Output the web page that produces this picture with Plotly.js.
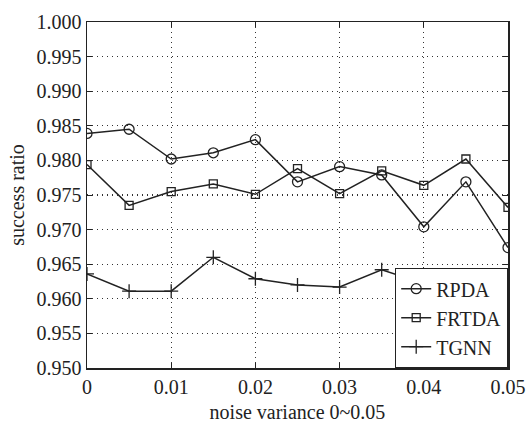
<!DOCTYPE html>
<html>
<head>
<meta charset="utf-8">
<script src="https://cdn.plot.ly/plotly-3.0.1.min.js"></script>
<style>html,body{margin:0;padding:0;background:#fff;}#chart{width:527px;height:423px;}</style>
</head>
<body>
<div id="chart"></div>
<script>
const noiseVariance = [0, 0.005, 0.01, 0.015, 0.02, 0.025, 0.03, 0.035, 0.04, 0.045, 0.05];
const rpda  = [0.9839, 0.9845, 0.9802, 0.9811, 0.9830, 0.9769, 0.9791, 0.9779, 0.9704, 0.9769, 0.9674];
const frtda = [0.9794, 0.9735, 0.9755, 0.9766, 0.9751, 0.9788, 0.9752, 0.9785, 0.9764, 0.9802, 0.9732];
const tgnn  = [0.9636, 0.9611, 0.9611, 0.9660, 0.9629, 0.9620, 0.9617, 0.9642, 0.9622, 0.9629, 0.9621];
const xTicks = [0, 0.01, 0.02, 0.03, 0.04, 0.05];
const xTickText = ['0', '0.01', '0.02', '0.03', '0.04', '0.05'];
const yTicks = [0.950, 0.955, 0.960, 0.965, 0.970, 0.975, 0.980, 0.985, 0.990, 0.995, 1.000];
const yTickText = yTicks.map(v => v.toFixed(3));

const lineColor = '#222';
const traces = [
  {x: noiseVariance, y: rpda, name: 'RPDA', mode: 'lines+markers',
   line: {color: lineColor, width: 1.5},
   marker: {symbol: 'circle-open', size: 10, color: lineColor, line: {width: 1.3, color: lineColor}}},
  {x: noiseVariance, y: frtda, name: 'FRTDA', mode: 'lines+markers',
   line: {color: lineColor, width: 1.5},
   marker: {symbol: 'square-open', size: 8, color: lineColor, line: {width: 1.3, color: lineColor}}},
  {x: noiseVariance, y: tgnn, name: 'TGNN', mode: 'lines+markers',
   line: {color: lineColor, width: 1.5},
   marker: {symbol: 'cross-thin', size: 10, color: lineColor, line: {width: 1.3, color: lineColor}}}
];

const font = {family: '"Liberation Serif", "Times New Roman", serif', size: 20, color: '#222'};
const layout = {
  width: 527, height: 423,
  margin: {l: 87, r: 19, t: 22, b: 55},
  paper_bgcolor: '#fff', plot_bgcolor: '#fff',
  font: font,
  showlegend: true,
  legend: {x: 1, y: 0, xanchor: 'right', yanchor: 'bottom', bgcolor: '#fff',
           bordercolor: '#222', borderwidth: 1.2, font: font, tracegroupgap: 0,
           itemwidth: 30},
  xaxis: {
    range: [0, 0.05], tickvals: xTicks, ticktext: xTickText,
    showgrid: true, gridcolor: '#333', griddash: '1px,4px', gridwidth: 1.2,
    zeroline: false, showline: true, linecolor: '#222', linewidth: 1.5, mirror: 'ticks',
    ticks: 'inside', ticklen: 5, tickcolor: '#222', tickfont: font,
    title: {text: 'noise variance 0~0.05', font: font, standoff: 10}
  },
  yaxis: {
    range: [0.95, 1.0], tickvals: yTicks, ticktext: yTickText,
    showgrid: true, gridcolor: '#333', griddash: '1px,4px', gridwidth: 1.2,
    zeroline: false, showline: true, linecolor: '#222', linewidth: 1.5, mirror: 'ticks',
    ticks: 'inside', ticklen: 5, tickcolor: '#222', tickfont: font,
    title: {text: 'success ratio', font: font, standoff: 6}
  }
};
Plotly.newPlot('chart', traces, layout, {displayModeBar: false, staticPlot: true});
</script>
</body>
</html>
